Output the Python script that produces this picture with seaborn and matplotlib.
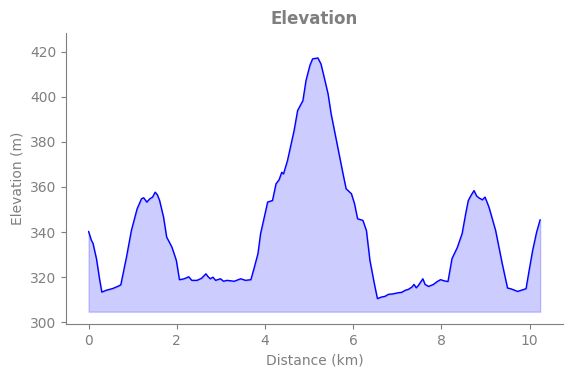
import pandas as pd
import matplotlib
matplotlib.use('Agg')
import matplotlib.pyplot as plt
import seaborn as sns

# distance along the route (km) and elevation (m)
distance_km = [0.00, 0.06, 0.10, 0.18, 0.25, 0.30, 0.40, 0.55, 0.67, 0.73,
               0.86, 0.97, 1.10, 1.20, 1.25, 1.32, 1.39, 1.45, 1.51, 1.56,
               1.61, 1.70, 1.77, 1.89, 1.99, 2.06, 2.15, 2.23, 2.27, 2.34,
               2.46, 2.56, 2.66, 2.71, 2.76, 2.82, 2.88, 2.99, 3.06, 3.14,
               3.30, 3.45, 3.56, 3.68, 3.75, 3.84, 3.90, 4.00, 4.06, 4.17,
               4.25, 4.32, 4.38, 4.42, 4.51, 4.66, 4.74, 4.86, 4.93, 5.02,
               5.08, 5.20, 5.27, 5.35, 5.43, 5.50, 5.62, 5.77, 5.84, 5.96,
               6.03, 6.10, 6.22, 6.30, 6.38, 6.48, 6.55, 6.64, 6.72, 6.80,
               6.90, 7.02, 7.10, 7.18, 7.25, 7.33, 7.38, 7.43, 7.48, 7.58,
               7.63, 7.71, 7.82, 7.90, 7.98, 8.08, 8.15, 8.24, 8.36, 8.47,
               8.55, 8.61, 8.68, 8.74, 8.80, 8.85, 8.93, 8.99, 9.08, 9.23,
               9.38, 9.50, 9.57, 9.73, 9.92, 9.99, 10.07, 10.16, 10.24]
elevation_m = [340.3, 336.5, 335.0, 328.0, 319.0, 313.4, 314.2, 315.0, 316.0, 316.6,
               329.0, 340.7, 350.3, 354.8, 355.2, 353.3, 354.8, 355.5, 357.7, 356.5,
               354.0, 346.6, 337.8, 333.3, 327.4, 318.9, 319.2, 319.8, 320.2, 318.6,
               318.6, 319.5, 321.5, 320.2, 319.3, 320.0, 318.6, 319.3, 318.2, 318.6,
               318.2, 319.3, 318.6, 318.9, 323.8, 330.4, 339.3, 348.0, 353.3, 354.0,
               361.4, 363.2, 366.5, 365.8, 371.7, 385.0, 393.9, 398.3, 407.2, 414.0,
               416.8, 417.2, 414.5, 408.0, 401.3, 392.4, 380.6, 365.8, 359.2, 357.0,
               352.6, 345.9, 345.2, 340.7, 327.4, 317.1, 310.5, 311.2, 311.5, 312.4,
               312.6, 313.1, 313.3, 314.2, 314.6, 315.6, 316.8, 315.3, 316.4, 319.3,
               316.8, 315.9, 316.8, 318.0, 318.9, 318.3, 318.1, 328.2, 333.1, 339.3,
               348.0, 354.0, 356.5, 358.4, 356.0, 355.2, 354.3, 355.5, 351.0, 340.7,
               326.0, 315.2, 314.9, 313.7, 314.9, 323.0, 331.9, 340.0, 345.5]

df = pd.DataFrame({'Distance (km)': distance_km, 'Elevation (m)': elevation_m})
base = 304.7  # bottom of the shaded area

sns.set_style('ticks')
plt.rcParams['font.family'] = ['DejaVu Sans']
grey = '#7f7f7f'

fig, ax = plt.subplots(figsize=(5.71, 3.78), dpi=100)
ax.fill_between(df['Distance (km)'], df['Elevation (m)'], base, color='blue', alpha=0.2)
sns.lineplot(data=df, x='Distance (km)', y='Elevation (m)', color='blue', linewidth=1, ax=ax)

ax.set_ylim(299.1, 428.4)
ax.set_title('Elevation', color=grey, fontsize=12, fontweight='bold')
ax.set_xlabel('Distance (km)', color=grey)
ax.set_ylabel('Elevation (m)', color=grey)
ax.tick_params(colors=grey)
for side in ['left', 'bottom']:
    ax.spines[side].set_color(grey)
sns.despine(ax=ax)

plt.subplots_adjust(left=0.1156, right=0.9855, top=0.9135, bottom=0.142)
plt.savefig('out.png', dpi=100)
